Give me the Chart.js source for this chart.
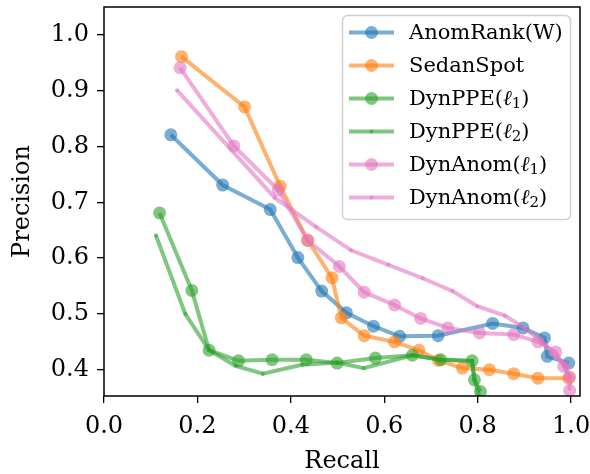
<!DOCTYPE html>
<html lang="en">
<head>
  <meta charset="UTF-8">
  <title>Precision vs Recall</title>
  <script src="https://cdn.jsdelivr.net/npm/chart.js"></script>
  <style>
    html, body {
      margin: 0;
      padding: 0;
      background: #fff;
    }
    #wrap {
      width: 590px;
      height: 474px;
    }
  </style>
</head>
<body>
  <div id="wrap"><canvas id="prChart" width="590" height="474"></canvas></div>

  <script>
    // tick values
    const recallTicks = [0.0, 0.2, 0.4, 0.6, 0.8, 1.0];
    const precisionTicks = [0.4, 0.5, 0.6, 0.7, 0.8, 0.9, 1.0];

    const seriesNames = ['AnomRank(W)', 'SedanSpot', 'DynPPE(ℓ₁)', 'DynPPE(ℓ₂)', 'DynAnom(ℓ₁)', 'DynAnom(ℓ₂)'];

    const anomRankRecall = [0.143, 0.254, 0.356, 0.415, 0.466, 0.519, 0.577, 0.633, 0.715, 0.832, 0.897, 0.943, 0.949, 0.995];
    const anomRankPrecision = [0.821, 0.731, 0.687, 0.601, 0.541, 0.502, 0.478, 0.460, 0.461, 0.483, 0.475, 0.457, 0.424, 0.412];

    const sedanRecall = [0.166, 0.301, 0.377, 0.436, 0.488, 0.508, 0.557, 0.622, 0.674, 0.716, 0.767, 0.825, 0.877, 0.929, 0.995];
    const sedanPrecision = [0.961, 0.871, 0.729, 0.632, 0.565, 0.493, 0.461, 0.450, 0.435, 0.417, 0.403, 0.400, 0.393, 0.385, 0.385];

    const ppeL1Recall = [0.119, 0.188, 0.225, 0.288, 0.360, 0.433, 0.499, 0.581, 0.660, 0.721, 0.788, 0.793, 0.806];
    const ppeL1Precision = [0.681, 0.542, 0.435, 0.416, 0.418, 0.418, 0.412, 0.421, 0.426, 0.418, 0.416, 0.382, 0.361];

    const ppeL2Recall = [0.111, 0.174, 0.225, 0.282, 0.340, 0.424, 0.499, 0.556, 0.660, 0.721, 0.788, 0.793, 0.806];
    const ppeL2Precision = [0.641, 0.500, 0.435, 0.407, 0.393, 0.409, 0.413, 0.403, 0.426, 0.418, 0.416, 0.382, 0.345];

    const anomL1Recall = [0.163, 0.278, 0.373, 0.436, 0.504, 0.557, 0.622, 0.678, 0.736, 0.804, 0.877, 0.929, 0.967, 0.984, 0.997, 0.997];
    const anomL1Precision = [0.941, 0.801, 0.722, 0.632, 0.585, 0.539, 0.516, 0.492, 0.475, 0.466, 0.463, 0.450, 0.432, 0.406, 0.387, 0.363];

    const anomL2Recall = [0.156, 0.366, 0.454, 0.529, 0.609, 0.682, 0.746, 0.799, 0.858, 0.900, 0.945, 0.985, 0.997];
    const anomL2Precision = [0.901, 0.708, 0.656, 0.614, 0.588, 0.564, 0.541, 0.514, 0.497, 0.475, 0.445, 0.410, 0.387];

    const FONT = "'DejaVu Serif', serif";

    function pts(xs, ys) {
      return xs.map((x, i) => ({ x: x, y: ys[i] }));
    }

    function makeSet(label, xs, ys, rgb, bigDots, idx) {
      const c = 'rgba(' + rgb + ',0.6)';
      return {
        label: label,
        data: pts(xs, ys),
        borderColor: c,
        backgroundColor: c,
        pointBackgroundColor: c,
        pointBorderWidth: 0,
        pointRadius: bigDots ? 6.5 : 2,
        borderWidth: 4,
        tension: 0,
        clip: 0,
        order: -idx
      };
    }

    const datasets = [
      makeSet(seriesNames[0], anomRankRecall, anomRankPrecision, '31,119,180', true, 0),
      makeSet(seriesNames[1], sedanRecall, sedanPrecision, '255,127,14', true, 1),
      makeSet(seriesNames[2], ppeL1Recall, ppeL1Precision, '44,160,44', true, 2),
      makeSet(seriesNames[3], ppeL2Recall, ppeL2Precision, '44,160,44', false, 3),
      makeSet(seriesNames[4], anomL1Recall, anomL1Precision, '227,119,194', true, 4),
      makeSet(seriesNames[5], anomL2Recall, anomL2Precision, '227,119,194', false, 5)
    ];

    // black frame all round the plot
    const framePlugin = {
      id: 'frame',
      afterDatasetsDraw(chart) {
        const { ctx, chartArea: a } = chart;
        ctx.save();
        ctx.strokeStyle = '#000';
        ctx.lineWidth = 1.5;
        ctx.strokeRect(a.left, a.top, a.right - a.left, a.bottom - a.top);
        ctx.restore();
      }
    };

    const SUBS = { '₁': '1', '₂': '2' };

    // writes a label, drawing ₁/₂ as a smaller lowered digit like mathtext
    function drawLabel(ctx, text, x, y) {
      let cx = x;
      for (const ch of text) {
        if (SUBS[ch]) {
          ctx.font = '15px ' + FONT;
          ctx.fillText(SUBS[ch], cx, y + 5);
          cx += ctx.measureText(SUBS[ch]).width;
        } else if (ch === 'ℓ') {
          ctx.font = 'italic 21px ' + FONT;
          ctx.fillText(ch, cx, y);
          cx += ctx.measureText(ch).width;
        } else {
          ctx.font = '21px ' + FONT;
          ctx.fillText(ch, cx, y);
          cx += ctx.measureText(ch).width;
        }
      }
    }

    // legend box inside the upper right corner
    const boxLegend = {
      id: 'boxLegend',
      afterDraw(chart) {
        const ctx = chart.ctx;
        const x0 = 342.5, y0 = 15.5, w = 228, h = 204;
        ctx.save();
        ctx.beginPath();
        ctx.roundRect(x0, y0, w, h, 5);
        ctx.fillStyle = 'rgba(255,255,255,0.8)';
        ctx.fill();
        ctx.strokeStyle = '#d0d0d0';
        ctx.lineWidth = 1.5;
        ctx.stroke();

        ctx.textBaseline = 'middle';
        chart.data.datasets.forEach((ds, i) => {
          const y = 32.5 + i * 33;
          ctx.strokeStyle = ds.borderColor;
          ctx.lineWidth = 4;
          ctx.beginPath();
          ctx.moveTo(349, y);
          ctx.lineTo(394, y);
          ctx.stroke();
          ctx.fillStyle = ds.pointBackgroundColor;
          ctx.beginPath();
          ctx.arc(371.5, y, ds.pointRadius, 0, Math.PI * 2);
          ctx.fill();
          ctx.fillStyle = '#000';
          drawLabel(ctx, ds.label, 409, y + 1);
        });
        ctx.restore();
      }
    };

    const ctx = document.getElementById('prChart').getContext('2d');
    new Chart(ctx, {
      type: 'line',
      data: { datasets: datasets },
      plugins: [framePlugin, boxLegend],
      options: {
        responsive: false,
        animation: false,
        layout: { padding: { top: 7, right: 10, left: 0, bottom: 0 } },
        plugins: {
          legend: { display: false },
          tooltip: { enabled: false }
        },
        scales: {
          x: {
            type: 'linear',
            min: 0,
            max: 1.019,
            afterBuildTicks: s => { s.ticks = recallTicks.map(v => ({ value: v })); },
            afterFit: s => { s.height = 78; s.paddingLeft = 0; s.paddingRight = 0; },
            ticks: {
              color: '#000',
              font: { family: FONT, size: 24 },
              padding: 9,
              maxRotation: 0,
              callback: v => v.toFixed(1)
            },
            grid: {
              drawOnChartArea: false,
              drawTicks: true,
              tickLength: 7,
              color: '#000',
              lineWidth: 1.3
            },
            border: { display: false },
            title: {
              display: true,
              text: 'Recall',
              color: '#000',
              font: { family: FONT, size: 24 },
              padding: { top: 0, bottom: -2 }
            }
          },
          y: {
            type: 'linear',
            min: 0.353,
            max: 1.05,
            afterBuildTicks: s => { s.ticks = precisionTicks.map(v => ({ value: v })); },
            afterFit: s => { s.width = 104; s.paddingTop = 0; s.paddingBottom = 0; },
            ticks: {
              color: '#000',
              font: { family: FONT, size: 24 },
              padding: 8,
              callback: v => v.toFixed(1)
            },
            grid: {
              drawOnChartArea: false,
              drawTicks: true,
              tickLength: 7,
              color: '#000',
              lineWidth: 1.3
            },
            border: { display: false },
            title: {
              display: true,
              text: 'Precision',
              color: '#000',
              font: { family: FONT, size: 24 },
              padding: { top: 8, bottom: 0 }
            }
          }
        }
      }
    });
  </script>
</body>
</html>
